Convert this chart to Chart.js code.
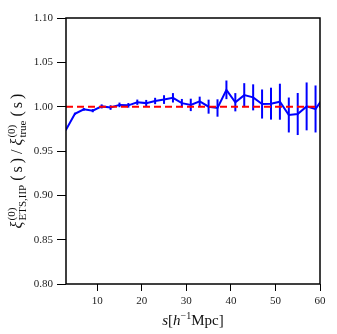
<!DOCTYPE html>
<html>
<head>
<meta charset="utf-8">
<script src="https://cdn.jsdelivr.net/npm/chart.js@4.4.0/dist/chart.umd.min.js"></script>
<style>
  html, body { margin: 0; padding: 0; background: #fff; }
  #wrap { width: 337px; height: 334px; }
</style>
</head>
<body>
<div id="wrap"><canvas id="c" width="337" height="334"></canvas></div>
<script>
// separation s in h^-1 Mpc
const sepVals = [3, 5, 7, 9, 11, 13, 15, 17, 19, 21, 23, 25, 27, 29, 31, 33, 35, 37, 39, 41, 43, 45, 47, 49, 51, 53, 55, 57, 59, 61];
// monopole ratio ETS,IIP / true
const ratioVals = [0.974, 0.992, 0.997, 0.9955, 1.0003, 0.999, 1.002, 1.0015, 1.005, 1.004, 1.0064, 1.008, 1.010, 1.004, 1.002,
  1.006, 1.000, 0.9985, 1.019, 1.005, 1.013, 1.0105, 1.003, 1.0034, 1.0056, 0.9906, 0.9917, 1.0003, 0.9974, 1.012];
// error bar half-lengths
const errVals = [0.001, 0.0012, 0.0015, 0.0018, 0.0023, 0.0026, 0.0026, 0.0026, 0.003, 0.0036, 0.0036, 0.0049, 0.0053, 0.0047, 0.007,
  0.0053, 0.0079, 0.0098, 0.0105, 0.0103, 0.0135, 0.0147, 0.0164, 0.018, 0.0203, 0.0197, 0.0237, 0.027, 0.0265, 0.028];
// reference line
const refX = [3, 60];
const refY = [1, 1];

const xTicks = [10, 20, 30, 40, 50, 60];
const yTicks = [0.80, 0.85, 0.90, 0.95, 1.00, 1.05, 1.10];

const SERIF = '"Liberation Serif", "DejaVu Serif", serif';

// draws a run of text pieces left to right, returns the width
function runPieces(ctx, pieces, startX, draw) {
  let cx = startX;
  pieces.forEach(p => {
    if (p.gap) { cx += p.gap; return; }
    if (p.sup !== undefined || p.sub !== undefined) {
      ctx.font = p.font;
      const w1 = p.sup ? ctx.measureText(p.sup).width : 0;
      const w2 = p.sub ? ctx.measureText(p.sub).width : 0;
      if (draw) {
        if (p.sup) ctx.fillText(p.sup, cx, p.supDy);
        if (p.sub) ctx.fillText(p.sub, cx, p.subDy);
      }
      cx += Math.max(w1, w2);
      return;
    }
    ctx.font = p.font;
    if (draw) ctx.fillText(p.t, cx, p.dy || 0);
    cx += ctx.measureText(p.t).width;
  });
  return cx - startX;
}

const mainF = '15px ' + SERIF;
const mainI = 'italic 15px ' + SERIF;
const yMain = '16px ' + SERIF;
const yMainI = 'italic 16px ' + SERIF;
const scrF = '10px ' + SERIF;
const yScr = '11px ' + SERIF;

const yTitle = [
  { t: 'ξ', font: yMainI },
  { gap: 1 },
  { sup: '(0)', sub: 'ETS,IIP', font: yScr, supDy: -7, subDy: 4 },
  { gap: 4 },
  { t: '(', font: yMain }, { gap: 3 }, { t: 's', font: yMain }, { gap: 3 }, { t: ')', font: yMain },
  { gap: 4 },
  { t: '/', font: yMain },
  { gap: 4 },
  { t: 'ξ', font: yMainI },
  { gap: 1 },
  { sup: '(0)', sub: 'true', font: yScr, supDy: -7, subDy: 4 },
  { gap: 4 },
  { t: '(', font: yMain }, { gap: 3 }, { t: 's', font: yMain }, { gap: 3 }, { t: ')', font: yMain }
];

const xTitle = [
  { t: 's', font: mainI },
  { t: '[', font: mainF },
  { t: 'h', font: mainI },
  { t: '−1', font: scrF, dy: -6 },
  { t: 'Mpc]', font: mainF }
];

const decorPlugin = {
  id: 'decor',
  beforeDatasetsDraw(chart) {
    const { ctx, chartArea: a, scales } = chart;
    // error bars
    ctx.save();
    ctx.beginPath();
    ctx.rect(a.left, a.top, a.right - a.left, a.bottom - a.top);
    ctx.clip();
    ctx.strokeStyle = '#0000ff';
    ctx.lineWidth = 2;
    sepVals.forEach((s, i) => {
      const x = scales.x.getPixelForValue(s);
      const y1 = scales.y.getPixelForValue(ratioVals[i] - errVals[i]);
      const y2 = scales.y.getPixelForValue(ratioVals[i] + errVals[i]);
      ctx.beginPath();
      ctx.moveTo(x, y1);
      ctx.lineTo(x, y2);
      ctx.stroke();
    });
    ctx.restore();
  },
  afterDraw(chart) {
    const { ctx, chartArea: a } = chart;
    ctx.save();
    // frame
    ctx.strokeStyle = '#000';
    ctx.lineWidth = 1.5;
    ctx.strokeRect(a.left, a.top, a.right - a.left, a.bottom - a.top);

    ctx.fillStyle = '#111';
    ctx.textBaseline = 'alphabetic';
    ctx.textAlign = 'left';

    // x title
    const wx = runPieces(ctx, xTitle, 0, false);
    runPieces(ctx, xTitle, (a.left + a.right) / 2 - wx / 2, true);

    // y title, rotated
    ctx.save();
    ctx.translate(22, 161);
    ctx.rotate(-Math.PI / 2);
    const wy = runPieces(ctx, yTitle, 0, false);
    runPieces(ctx, yTitle, -wy / 2, true);
    ctx.restore();
    ctx.restore();
  }
};

// x title baseline
xTitle.forEach(p => { p.dy = (p.dy || 0) + 325; });

new Chart(document.getElementById('c'), {
  type: 'line',
  data: {
    datasets: [
      {
        data: refX.map((x, i) => ({ x: x, y: refY[i] })),
        borderColor: '#ff0000',
        borderWidth: 2,
        borderDash: [7, 4],
        pointRadius: 0,
        fill: false,
        clip: 0
      },
      {
        data: sepVals.map((s, i) => ({ x: s, y: ratioVals[i] })),
        borderColor: '#0000ff',
        borderWidth: 2,
        pointRadius: 0,
        tension: 0,
        fill: false,
        clip: 0
      }
    ]
  },
  options: {
    responsive: false,
    animation: false,
    events: [],
    layout: { padding: { left: 0, right: 17, top: 18, bottom: 0 } },
    plugins: { legend: { display: false }, tooltip: { enabled: false } },
    scales: {
      x: {
        type: 'linear',
        min: 3,
        max: 60,
        afterBuildTicks: s => { s.ticks = xTicks.map(v => ({ value: v })); },
        afterFit: s => { s.height = 50; },
        border: { display: false },
        grid: { display: true, drawOnChartArea: false, drawTicks: true, tickLength: 7, tickColor: '#000', lineWidth: 1 },
        ticks: {
          color: '#222',
          padding: 4,
          maxRotation: 0,
          font: { family: SERIF, size: 11 },
          callback: v => String(v)
        }
      },
      y: {
        type: 'linear',
        min: 0.8,
        max: 1.1,
        afterBuildTicks: s => { s.ticks = yTicks.map(v => ({ value: v })); },
        afterFit: s => { s.width = 66; },
        border: { display: false },
        grid: { display: true, drawOnChartArea: false, drawTicks: true, tickLength: 9, tickColor: '#000', lineWidth: 1 },
        ticks: {
          color: '#222',
          padding: 4,
          font: { family: SERIF, size: 11 },
          callback: v => v.toFixed(2)
        }
      }
    }
  },
  plugins: [decorPlugin]
});
</script>
</body>
</html>
